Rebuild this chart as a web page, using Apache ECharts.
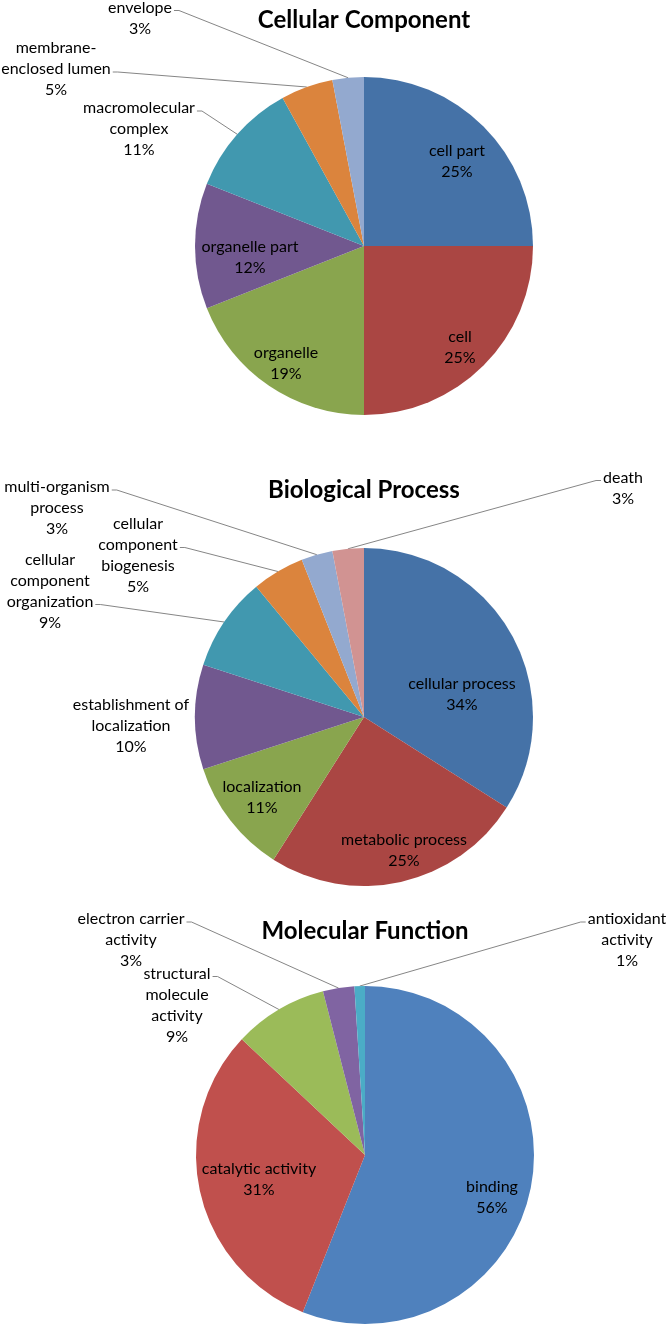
<!DOCTYPE html>
<html><head><meta charset="utf-8">
<script src="https://cdn.jsdelivr.net/npm/echarts@6/dist/echarts.min.js"></script>
<style>html,body{margin:0;padding:0;background:#fff}#c{width:666px;height:1330px}</style>
</head><body><div id="c"></div>
<script>
// ---- Data ----
const ccTitle = 'Cellular Component';
const ccCategories = ['cell part','cell','organelle','organelle part','macromolecular complex','membrane-enclosed lumen','envelope'];
const ccLabels = ['cell part','cell','organelle','organelle part','macromolecular\ncomplex','membrane-\nenclosed lumen','envelope'];
const ccValues = [25,25,19,12,11,5,3];

const bpTitle = 'Biological Process';
const bpCategories = ['cellular process','metabolic process','localization','establishment of localization','cellular component organization','cellular component biogenesis','multi-organism process','death'];
const bpLabels = ['cellular process','metabolic process','localization','establishment of\nlocalization','cellular\ncomponent\norganization','cellular\ncomponent\nbiogenesis','multi-organism\nprocess','death'];
const bpValues = [34,25,11,10,9,5,3,3];

const mfTitle = 'Molecular Function';
const mfCategories = ['binding','catalytic activity','structural molecule activity','electron carrier activity','antioxidant activity'];
const mfLabels = ['binding','catalytic activity','structural\nmolecule\nactivity','electron carrier\nactivity','antioxidant\nactivity'];
const mfValues = [56,31,9,3,1];

// ---- Styles / layout ----
const ccColors = ['#4572A7','#AA4643','#89A54E','#71588F','#4198AF','#DB843D','#93A9CF'];
const bpColors = ['#4572A7','#AA4643','#89A54E','#71588F','#4198AF','#DB843D','#93A9CF','#D19392'];
const mfColors = ['#4F81BD','#C0504D','#9BBB59','#8064A2','#4BACC6'];
const FONT = 'Lato, "Noto Sans", sans-serif';
const FS = 16, LH = 21;
const R = 169;

// label block centres (layout only)
const charts = [
  { title: ccTitle, cats: ccCategories, labels: ccLabels, values: ccValues, colors: ccColors,
    center: [364, 246], titleTop: 6, inside: [0,1,2,3], noLine: [],
    place: {0: [457,161], 1: [460,347], 2: [286,363], 3: [250,257], 4: [139,129], 5: [56,69], 6: [140,18]} },
  { title: bpTitle, cats: bpCategories, labels: bpLabels, values: bpValues, colors: bpColors,
    center: [364, 717], titleTop: 476, inside: [0,1,2], noLine: [3],
    place: {0: [462,694], 1: [404,850], 2: [262,797], 3: [131,726], 4: [50,591], 5: [138,555], 6: [57,508], 7: [623,488]} },
  { title: mfTitle, cats: mfCategories, labels: mfLabels, values: mfValues, colors: mfColors,
    center: [365, 1155], titleTop: 917, inside: [0,1], noLine: [],
    place: {0: [492,1197], 1: [259,1179], 2: [177,1005], 3: [131,940], 4: [627,940]} }
];

const mctx = document.createElement('canvas').getContext('2d');
mctx.font = FS + 'px ' + FONT;
const measure = s => mctx.measureText(s).width;

const labelStyle = { color: '#000', fontFamily: FONT, fontSize: FS, lineHeight: LH, align: 'center' };

const series = [];
const titles = [];
charts.forEach(c => {
  const textOf = i => c.labels[i] + '\n' + c.values[i] + '%';
  titles.push({ text: c.title, left: c.center[0], top: c.titleTop, textAlign: 'center', padding: 0,
    textStyle: { fontFamily: FONT, fontWeight: 'bold', fontSize: 24, lineHeight: 28, color: '#000' } });
  series.push({
    type: 'pie', center: c.center, radius: [0, R], startAngle: 90, clockwise: true,
    avoidLabelOverlap: false, silent: true, animation: false,
    data: c.values.map((v, i) => ({
      name: c.cats[i], value: v, itemStyle: { color: c.colors[i] },
      label: { position: c.inside.includes(i) ? 'inside' : 'outside' },
      labelLine: { show: !c.inside.includes(i) && !c.noLine.includes(i) }
    })),
    label: Object.assign({ show: true, formatter: p => textOf(p.dataIndex) }, labelStyle),
    labelLine: { length: 8, length2: 5, smooth: false, lineStyle: { color: '#868686', width: 1 } },
    labelLayout: p => {
      const i = p.dataIndex;
      const pos = c.place[i];
      if (!pos) return {};
      const out = { x: pos[0], y: pos[1], align: 'center', verticalAlign: 'middle' };
      const pts = p.labelLinePoints;
      if (pts && !c.inside.includes(i) && !c.noLine.includes(i)) {
        const lines = textOf(i).split('\n');
        let wi = 0, ww = 0;
        lines.forEach((s, k) => { const w = measure(s); if (w > ww) { ww = w; wi = k; } });
        const anchor = pts[0];
        const side = anchor[0] > pos[0] ? 1 : -1;
        const ax = pos[0] + side * (ww / 2 + 2);
        const ay = pos[1] - lines.length * LH / 2 + (wi + 0.5) * LH + 3;
        out.labelLinePoints = [[anchor[0], anchor[1]], [ax + side * 5, ay], [ax, ay]];
      }
      return out;
    }
  });
});

const chart = echarts.init(document.getElementById('c'), null, { renderer: 'canvas' });
chart.setOption({ backgroundColor: '#fff', animation: false, title: titles, series: series });
</script>
</body></html>
